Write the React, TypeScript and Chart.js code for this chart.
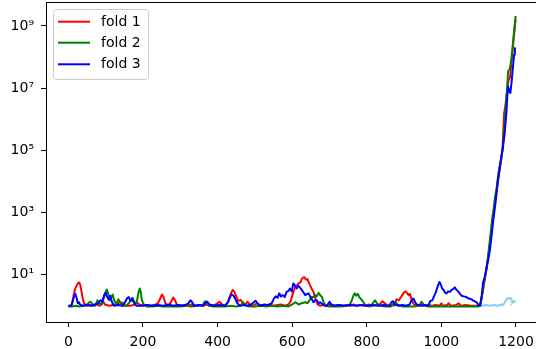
import React, { useEffect, useRef } from "react";
import { Chart, registerables } from "chart.js";

Chart.register(...registerables);

const xTicks = [0, 200, 400, 600, 800, 1000, 1200];
const yTicks = [1e1, 1e3, 1e5, 1e7, 1e9];
const yTickLabels = ["10¹", "10³", "10⁵", "10⁷", "10⁹"];
const seriesLabels = ["fold 1", "fold 2", "fold 3"];
const seriesColors = ["#ff0000", "#008000", "#0000ff"];

const fold1X = [0,5,10,14,18,22,26,29,32,35,38,42,48,55,65,75,85,93,98,110,120,130,137,145,152,165,175,183,190,200,210,220,230,240,246,251,255,260,268,275,281,286,292,300,310,320,330,340,350,360,370,380,390,398,405,412,420,428,434,440,445,450,455,462,468,475,480,486,495,505,512,520,530,540,550,560,570,580,590,596,602,608,613,617,622,626,632,637,641,644,648,652,657,661,668,675,685,695,705,715,725,735,745,755,765,775,785,795,805,815,825,835,842,848,855,865,872,880,886,893,898,904,908,912,916,920,926,935,945,955,965,975,985,995,1000,1005,1015,1020,1025,1040,1046,1052,1065,1080,1095,1100,1105,1110,1115,1120,1125,1130,1135,1140,1145,1150,1155,1160,1164,1168,1172,1176,1180,1184,1188,1193,1199];
const fold1Y = [1.0,1.0,1.1,2.2,3.5,4.4,5.4,5.6,4.6,3.0,1.8,1.2,1.0,1.05,1.0,1.1,1.0,1.4,1.1,1.0,1.05,1.1,1.3,1.25,1.0,1.0,1.05,1.3,1.1,1.0,1.05,1.0,1.05,1.2,1.7,2.3,1.9,1.2,1.0,1.3,1.85,1.5,1.0,1.0,1.05,1.0,1.1,1.0,1.05,1.0,1.1,1.0,1.05,1.15,1.35,1.1,1.0,1.3,2.2,3.2,2.8,2.0,1.4,1.55,1.2,1.1,1.35,1.1,1.0,1.2,1.0,1.05,1.0,1.1,1.0,1.05,1.1,1.0,1.1,1.4,2.5,4.0,4.6,5.2,5.6,7.4,8.4,6.9,7.2,5.8,4.5,3.6,2.8,1.9,1.1,1.0,1.05,1.0,1.1,1.0,1.05,1.0,1.05,1.0,1.1,1.0,1.05,1.0,1.1,1.0,1.05,1.1,1.4,1.2,1.0,1.05,1.0,1.6,1.5,2.0,2.5,2.9,2.6,2.2,2.4,1.6,1.1,1.0,1.05,1.0,1.05,1.0,1.05,1.0,1.2,1.0,1.05,1.2,1.0,1.05,1.2,1.0,1.05,1.0,1.0,1.0,1.2,2.5,6,13,35,100,350,1.0e3,2.8e3,7e3,1.8e4,4.5e4,1.2e5,1.5e6,3e6,8e6,1.8e7,2.2e7,7e7,3e8,1.6e9];

const fold2X = [0,10,20,30,40,50,55,60,65,72,78,83,90,95,99,103,107,111,115,119,122,128,134,139,145,155,162,167,172,177,183,187,191,194,197,202,210,225,240,255,270,285,300,315,330,345,360,366,371,377,390,405,420,435,450,462,468,474,485,500,515,530,545,560,575,590,600,608,613,617,625,635,641,648,653,657,662,666,671,675,680,684,690,700,715,730,745,755,760,764,768,772,776,780,785,791,797,810,816,822,827,835,850,865,872,877,882,895,910,925,940,947,953,965,980,1000,1020,1040,1060,1080,1100,1104,1108,1112,1116,1120,1124,1128,1132,1136,1140,1144,1148,1152,1156,1160,1165,1170,1175,1179,1183,1188,1193,1199];
const fold2Y = [0.95,0.95,1.0,0.95,1.0,1.1,1.25,1.35,1.1,1.0,1.5,1.2,1.1,1.8,2.6,3.3,2.4,1.5,1.8,2.3,1.6,1.1,1.6,1.3,1.0,1.0,1.2,1.5,1.8,1.3,1.2,2.4,3.6,2.8,1.5,1.1,0.95,0.95,1.0,0.95,0.95,0.95,0.95,1.0,0.95,1.0,1.05,1.4,1.35,1.0,0.95,0.95,0.95,1.0,0.95,1.0,1.3,1.05,0.95,0.95,1.0,0.95,1.0,0.95,1.0,0.95,1.1,1.3,1.2,1.1,1.2,1.3,1.2,1.6,1.9,1.9,2.2,2.0,2.6,2.2,1.9,1.3,1.0,0.95,0.95,0.95,1.0,1.1,1.5,2.1,2.5,2.1,2.4,1.9,1.6,1.3,1.0,0.95,1.2,1.5,1.2,1.0,0.95,0.95,1.2,1.35,1.1,0.95,0.95,0.95,1.0,1.35,1.05,0.95,0.95,0.95,0.95,0.95,0.95,0.95,0.95,1.1,1.8,3.5,7,14,30,80,200,600,1.3e3,3.2e3,6e3,1.5e4,3e4,5e4,1.4e5,1.0e6,6e6,3.5e7,4e7,9e7,4e8,2.1e9];

const fold3X = [0,8,12,16,19,22,25,28,31,38,50,60,70,80,86,91,96,100,104,108,112,116,122,135,145,152,157,162,167,171,175,182,195,210,225,240,255,270,280,295,310,322,327,332,337,350,362,367,372,378,390,405,420,428,433,438,443,448,453,460,470,480,490,497,502,507,515,525,535,545,551,556,561,565,570,575,580,585,590,594,599,603,607,612,617,621,626,631,635,640,644,648,653,657,662,666,671,675,682,688,693,700,704,710,725,740,755,770,785,800,815,830,845,860,866,870,875,885,895,905,915,920,925,930,934,945,955,965,970,976,980,985,990,995,998,1002,1006,1010,1014,1018,1023,1027,1031,1036,1040,1045,1050,1054,1060,1067,1074,1081,1088,1094,1100,1104,1108,1112,1116,1121,1125,1130,1135,1140,1145,1152,1158,1164,1170,1174,1177,1179,1182,1185,1188,1192,1195,1197,1199];
const fold3Y = [1.0,1.0,1.5,2.1,2.4,1.8,1.2,1.3,1.1,1.0,1.05,1.0,1.1,1.2,1.5,1.35,2.2,2.6,1.9,1.6,2.1,1.4,1.0,1.05,1.0,1.3,1.7,1.9,1.4,1.7,1.3,1.0,1.0,1.05,1.0,1.05,1.0,1.1,1.0,1.05,1.0,1.2,1.5,1.3,1.0,1.05,1.0,1.2,1.35,1.1,1.0,1.05,1.0,1.3,1.9,2.3,2.1,1.6,1.2,1.0,1.05,1.0,1.1,1.3,1.45,1.2,1.0,1.1,1.05,1.2,1.7,2.0,1.8,2.5,2.0,2.2,1.9,2.8,3.0,3.6,2.9,5.2,4.6,3.6,4.4,3.8,3.2,2.6,2.2,2.4,2.5,2.0,1.6,1.3,1.5,1.5,1.2,1.3,1.1,1.0,1.0,1.35,1.1,1.0,1.05,1.0,1.05,1.0,1.05,1.0,1.05,1.0,1.05,1.0,1.3,1.4,1.1,1.0,1.05,1.0,1.1,1.5,1.7,1.3,1.1,1.0,1.05,1.0,1.4,1.5,2.0,2.7,4.2,5.8,5.0,3.6,3.2,2.6,2.5,2.9,2.8,3.2,3.4,3.9,3.3,2.9,2.4,2.1,2.0,1.9,1.7,1.6,1.4,1.3,1.05,1.0,2.1,5.8,8,16,28,60,200,700,2e3,1.2e4,4e4,1.0e5,3.8e5,1.5e6,6e6,1.1e7,8e6,7e6,1.5e7,5e7,1.2e8,1.9e8,2.0e8];

const fold4X = [1100,1110,1120,1130,1140,1150,1160,1165,1170,1175,1178,1182,1186,1190,1195,1199];
const fold4Y = [1.0,1.0,1.05,1.0,1.05,1.0,1.1,1.05,1.3,1.6,1.8,1.7,1.8,1.3,1.4,1.3];

const fold5X = [1185,1190,1195,1199];
const fold5Y = [1.0,1.2,1.35,1.45];

const FONT = "'DejaVu Sans', sans-serif";

function pts(xs: number[], ys: number[]) {
  return xs.map((x, i) => ({ x, y: ys[i] }));
}

const frameAndLegend = {
  id: "frameAndLegend",
  afterDraw(chart: any) {
    const { ctx, chartArea } = chart;
    ctx.save();
    ctx.strokeStyle = "#000";
    ctx.lineWidth = 1;
    ctx.beginPath();
    ctx.moveTo(chartArea.left, Math.round(chartArea.top) - 0.5);
    ctx.lineTo(chartArea.right, Math.round(chartArea.top) - 0.5);
    ctx.moveTo(Math.round(chartArea.right) + 0.5, chartArea.top);
    ctx.lineTo(Math.round(chartArea.right) + 0.5, chartArea.bottom);
    ctx.stroke();

    // legend
    const bx = 53.5, by = 9.5, bw = 95, bh = 70, r = 3;
    ctx.beginPath();
    ctx.moveTo(bx + r, by);
    ctx.lineTo(bx + bw - r, by);
    ctx.arcTo(bx + bw, by, bx + bw, by + r, r);
    ctx.lineTo(bx + bw, by + bh - r);
    ctx.arcTo(bx + bw, by + bh, bx + bw - r, by + bh, r);
    ctx.lineTo(bx + r, by + bh);
    ctx.arcTo(bx, by + bh, bx, by + bh - r, r);
    ctx.lineTo(bx, by + r);
    ctx.arcTo(bx, by, bx + r, by, r);
    ctx.closePath();
    ctx.fillStyle = "rgba(255,255,255,0.8)";
    ctx.fill();
    ctx.strokeStyle = "#cccccc";
    ctx.stroke();
    const rows = [21.7, 42.7, 64.3];
    ctx.font = `14px ${FONT}`;
    ctx.textBaseline = "middle";
    ctx.textAlign = "left";
    seriesLabels.forEach((lab, i) => {
      ctx.strokeStyle = seriesColors[i];
      ctx.lineWidth = 2;
      ctx.beginPath();
      ctx.moveTo(58, rows[i]);
      ctx.lineTo(90, rows[i]);
      ctx.stroke();
      ctx.fillStyle = "#000";
      ctx.fillText(lab, 101, rows[i] + 0.5);
    });
    ctx.restore();
  },
};

function zeroPad(s: any) {
  s.paddingTop = 0;
  s.paddingBottom = 0;
  s.paddingLeft = 0;
  s.paddingRight = 0;
}

export default function App() {
  const ref = useRef<HTMLCanvasElement>(null);
  useEffect(() => {
    const common = { pointRadius: 0, borderWidth: 2, tension: 0, fill: false, borderJoinStyle: "round" as const };
    const chart = new Chart(ref.current!, {
      type: "line",
      data: {
        datasets: [
          { ...common, label: seriesLabels[0], data: pts(fold1X, fold1Y), borderColor: seriesColors[0], order: 2 },
          { ...common, label: seriesLabels[1], data: pts(fold2X, fold2Y), borderColor: seriesColors[1], order: 1 },
          { ...common, label: seriesLabels[2], data: pts(fold3X, fold3Y), borderColor: seriesColors[2], order: 0 },
          { ...common, label: "fold 4", data: pts(fold4X, fold4Y), borderColor: "#87cefa", order: 3 },
          { ...common, label: "fold 5", data: pts(fold5X, fold5Y), borderColor: "#c8f06a", order: 4 },
        ],
      },
      options: {
        responsive: false,
        maintainAspectRatio: false,
        animation: false,
        events: [],
        layout: { padding: { left: 0, top: 3, right: 22, bottom: 0 } },
        plugins: { legend: { display: false }, tooltip: { enabled: false } },
        scales: {
          x: {
            type: "linear",
            min: -60,
            max: 1259,
            afterFit: (s: any) => { s.height = 27; zeroPad(s); },
            afterBuildTicks: (s: any) => { s.ticks = xTicks.map((v) => ({ value: v })); },
            ticks: {
              autoSkip: false,
              maxRotation: 0,
              padding: 7,
              color: "#000",
              font: { family: FONT, size: 14 },
              callback: (v: any) => String(v),
            },
            grid: { display: true, drawOnChartArea: false, drawTicks: true, tickLength: 5, color: "#000", lineWidth: 1 },
            border: { display: true, color: "#000", width: 1 },
          },
          y: {
            type: "logarithmic",
            min: 0.339,
            max: 5.45e9,
            afterFit: (s: any) => { s.width = 46; zeroPad(s); },
            afterBuildTicks: (s: any) => { s.ticks = yTicks.map((v) => ({ value: v })); },
            ticks: {
              autoSkip: false,
              padding: 7,
              color: "#000",
              font: { family: FONT, size: 14 },
              callback: (v: any) => {
                const i = yTicks.indexOf(Number(v));
                return i >= 0 ? yTickLabels[i] : "";
              },
            },
            grid: { display: true, drawOnChartArea: false, drawTicks: true, tickLength: 5, color: "#000", lineWidth: 1 },
            border: { display: true, color: "#000", width: 1 },
          },
        },
      },
      plugins: [frameAndLegend],
    });
    return () => chart.destroy();
  }, []);
  return (
    <div style={{ position: "fixed", left: 0, top: 0, width: 536, height: 349, overflow: "hidden", background: "#fff" }}>
      <canvas ref={ref} width={560} height={349} style={{ display: "block", width: 560, height: 349 }} />
    </div>
  );
}
